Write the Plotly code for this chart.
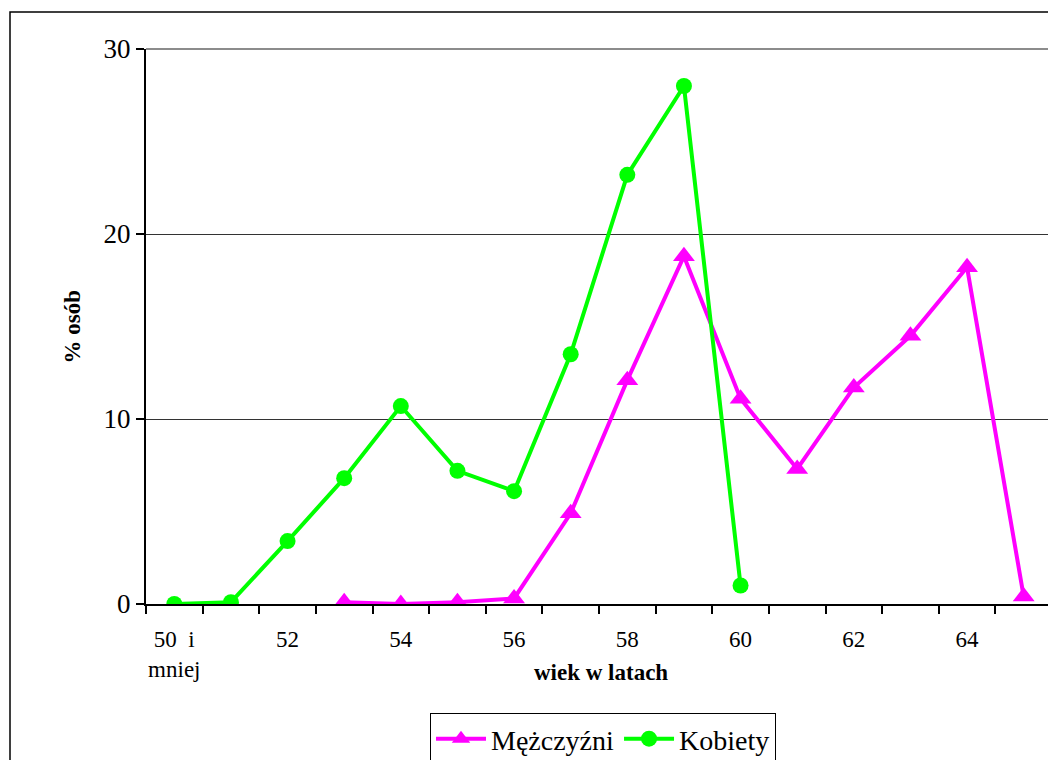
"""Wiek osób przechodzących na emeryturę — wykres liniowy (Mężczyźni / Kobiety)."""
import plotly.graph_objects as go

# kategorie wieku i etykiety osi
wiek = ["50 i mniej"] + [str(w) for w in range(51, 66)]
etykiety = ["50  i<br>mniej" if i == 0 else (w if i % 2 == 0 else "")
            for i, w in enumerate(wiek)]

# % osób
mezczyzni = [None, None, None, 0.1, 0.0, 0.1, 0.3, 4.9, 12.1, 18.8,
             11.1, 7.3, 11.7, 14.5, 18.2, 0.4]
kobiety = [0.0, 0.1, 3.4, 6.8, 10.7, 7.2, 6.1, 13.5, 23.2, 28.0,
           1.0, None, None, None, None, None]

y_ticks = [0, 10, 20, 30]

FONT = "Liberation Serif"
MAGENTA = "#FF00FF"
GREEN = "#00FF00"

# strona ma 8px marginesu body -> figura przesunięta o OFF
OFF = 8
PAGE_W, PAGE_H = 1056, 760
W, H = PAGE_W - OFF, PAGE_H - OFF
# obszar wykresu w pikselach strony
L, R, T, B = 146, 1052, 49, 604
PW, PH = R - L, B - T


def px_x(x):
    return (x - L) / PW


def px_y(y):
    return (B - y) / PH


fig = go.Figure()
fig.add_trace(go.Scatter(
    x=wiek, y=mezczyzni, mode="lines+markers", name="Mężczyźni",
    line=dict(color=MAGENTA, width=4),
    marker=dict(symbol="triangle-up", size=19, color=MAGENTA),
))
fig.add_trace(go.Scatter(
    x=wiek, y=kobiety, mode="lines+markers", name="Kobiety",
    line=dict(color=GREEN, width=4),
    marker=dict(symbol="circle", size=16, color=GREEN),
))

fig.update_layout(
    width=W, height=H,
    margin=dict(l=L - OFF, r=OFF + W - R, t=T - OFF, b=OFF + H - B,
                autoexpand=False),
    paper_bgcolor="white", plot_bgcolor="white",
    font=dict(family=FONT, color="black"),
    showlegend=True,
    legend=dict(
        orientation="h", x=px_x(603), xanchor="center",
        y=px_y(713), yanchor="top",
        font=dict(family=FONT, size=28, color="black"),
        bordercolor="black", borderwidth=1, bgcolor="white",
        itemwidth=50, tracegroupgap=0,
    ),
    shapes=[
        # ramka całego wykresu
        dict(type="rect", xref="paper", yref="paper",
             x0=px_x(10), x1=px_x(1055), y0=px_y(770), y1=px_y(12),
             line=dict(color="black", width=1.5), layer="below"),
        # szara ramka obszaru kreślenia (góra, prawa)
        dict(type="line", xref="paper", yref="paper", x0=0, x1=1, y0=1, y1=1,
             line=dict(color="#8c8c8c", width=2)),
        dict(type="line", xref="paper", yref="paper", x0=1, x1=1, y0=0, y1=1,
             line=dict(color="#8c8c8c", width=2)),
    ],
    annotations=[
        dict(text="<b>wiek w latach</b>", xref="paper", yref="paper",
             x=px_x(601), y=px_y(672), xanchor="center", yanchor="middle",
             showarrow=False, font=dict(family=FONT, size=23)),
        dict(text="<b>% osób</b>", xref="paper", yref="paper",
             x=px_x(72), y=0.5, xanchor="center", yanchor="middle",
             textangle=-90, showarrow=False, font=dict(family=FONT, size=23)),
    ],
)

fig.update_xaxes(
    type="category", categoryorder="array", categoryarray=wiek,
    range=[-0.5, len(wiek) - 0.5],
    tickmode="array", tickvals=wiek, ticktext=etykiety, tickangle=0,
    tickson="boundaries", ticks="outside", ticklen=8, tickwidth=1.5,
    tickcolor="black", automargin=False, ticklabelstandoff=13,
    showline=True, linecolor="black", linewidth=2,
    showgrid=False, zeroline=False,
    tickfont=dict(family=FONT, size=23, color="black"),
)
fig.update_yaxes(
    range=[0, 30], tickvals=y_ticks, automargin=False,
    ticks="outside", ticklen=8, tickwidth=1.5, tickcolor="black",
    showline=True, linecolor="black", linewidth=2,
    showgrid=True, gridcolor="#333333", gridwidth=1,
    zeroline=False,
    tickfont=dict(family=FONT, size=27, color="black"),
)

fig.write_html("out.html")
